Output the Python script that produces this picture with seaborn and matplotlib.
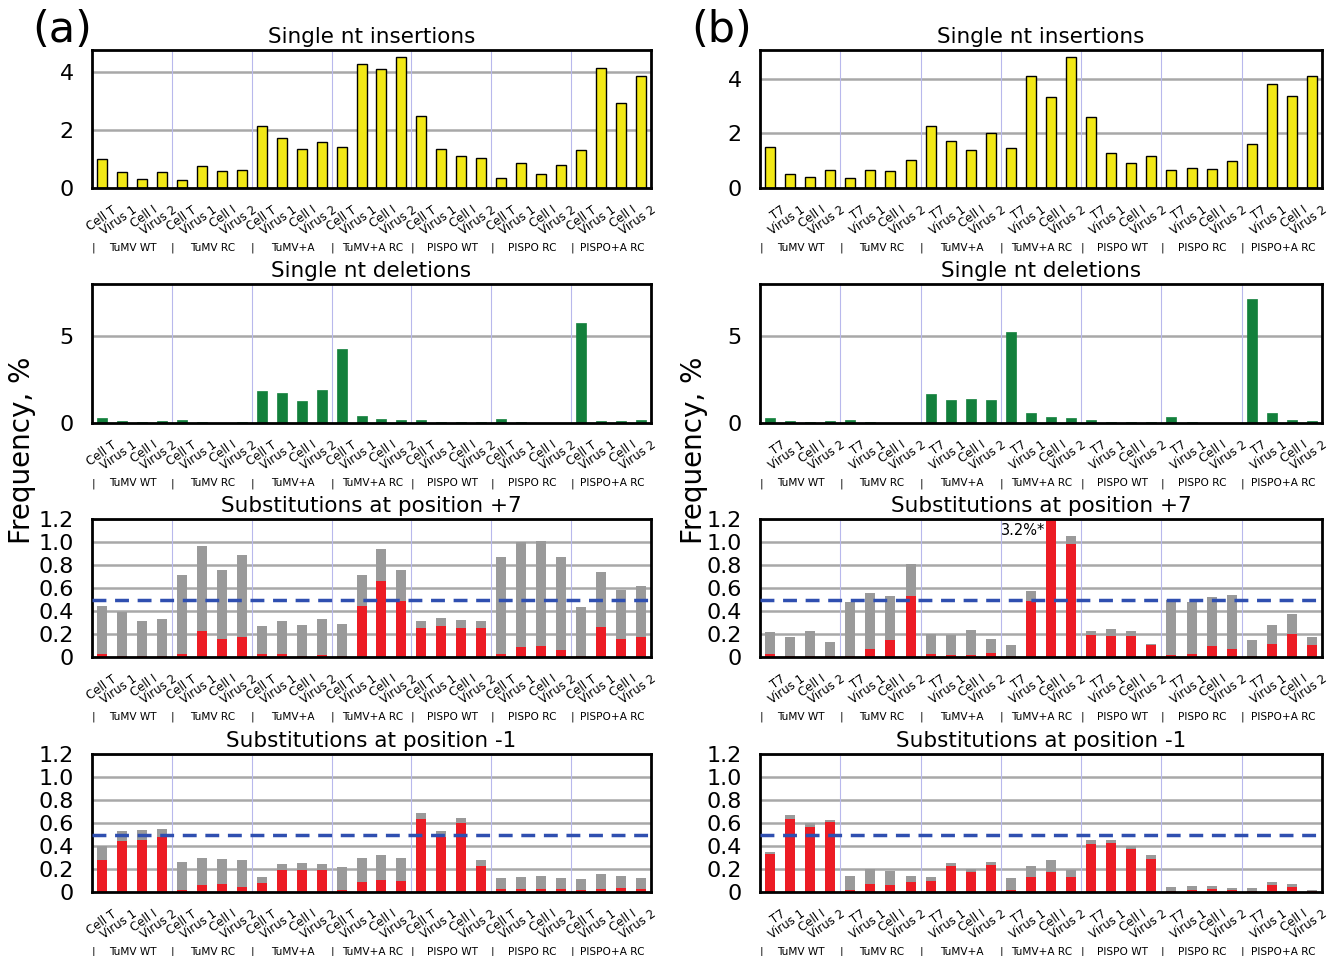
import matplotlib
matplotlib.use("Agg")
import matplotlib.pyplot as plt
import numpy as np
import pandas as pd
import seaborn as sns

# DATA
groups = ["TuMV WT", "TuMV RC", "TuMV+A", "TuMV+A RC", "PISPO WT", "PISPO RC", "PISPO+A RC"]
samples_a = ["Cell T", "Virus 1", "Cell I", "Virus 2"]
samples_b = ["T7", "Virus 1", "Cell I", "Virus 2"]

ins_a = [1.00, 0.55, 0.31, 0.54, 0.29, 0.76, 0.58, 0.63,
         2.13, 1.71, 1.33, 1.57, 1.40, 4.28, 4.09, 4.53,
         2.48, 1.36, 1.12, 1.03, 0.33, 0.85, 0.50, 0.78,
         1.31, 4.14, 2.92, 3.85]
ins_b = [1.49, 0.52, 0.41, 0.66, 0.37, 0.66, 0.62, 1.01,
         2.29, 1.71, 1.39, 2.00, 1.48, 4.10, 3.34, 4.82,
         2.60, 1.27, 0.93, 1.16, 0.66, 0.73, 0.71, 1.00,
         1.60, 3.83, 3.39, 4.09]

del_a = [0.29, 0.13, 0.06, 0.13, 0.19, 0.06, 0.02, 0.06,
         1.83, 1.72, 1.24, 1.89, 4.25, 0.42, 0.23, 0.17,
         0.15, 0.08, 0.04, 0.08, 0.23, 0.04, 0.02, 0.02,
         5.75, 0.12, 0.12, 0.15]
del_b = [0.27, 0.12, 0.08, 0.12, 0.19, 0.06, 0.02, 0.02,
         1.68, 1.33, 1.39, 1.31, 5.23, 0.60, 0.33, 0.27,
         0.15, 0.06, 0.04, 0.04, 0.37, 0.06, 0.02, 0.02,
         7.16, 0.60, 0.15, 0.12]

# substitutions: total (gray) and the red part
p7_tot_a = [0.446, 0.39, 0.31, 0.33, 0.71, 0.965, 0.755, 0.89,
            0.27, 0.315, 0.277, 0.327, 0.29, 0.71, 0.935, 0.755,
            0.315, 0.338, 0.318, 0.315, 0.866, 1.00, 1.01, 0.866,
            0.434, 0.743, 0.58, 0.618]
p7_red_a = [0.023, 0.01, 0.01, 0.01, 0.026, 0.23, 0.157, 0.17,
            0.026, 0.026, 0.01, 0.02, 0.01, 0.44, 0.66, 0.49,
            0.256, 0.268, 0.254, 0.248, 0.026, 0.09, 0.096, 0.061,
            0.01, 0.265, 0.16, 0.178]
p7_tot_b = [0.22, 0.17, 0.225, 0.134, 0.475, 0.554, 0.533, 0.808,
            0.20, 0.187, 0.233, 0.155, 0.105, 0.577, 3.25, 1.05,
            0.23, 0.242, 0.227, 0.114, 0.50, 0.48, 0.52, 0.54,
            0.149, 0.28, 0.373, 0.17]
p7_red_b = [0.03, 0.01, 0.012, 0.01, 0.01, 0.073, 0.146, 0.533,
            0.03, 0.018, 0.018, 0.038, 0.01, 0.49, 3.2, 0.985,
            0.187, 0.18, 0.18, 0.105, 0.015, 0.026, 0.096, 0.073,
            0.012, 0.11, 0.204, 0.102]

m1_tot_a = [0.40, 0.533, 0.542, 0.551, 0.257, 0.297, 0.283, 0.277,
            0.134, 0.245, 0.25, 0.245, 0.219, 0.30, 0.318, 0.30,
            0.688, 0.533, 0.641, 0.28, 0.12, 0.134, 0.137, 0.125,
            0.114, 0.16, 0.137, 0.125]
m1_red_a = [0.277, 0.443, 0.452, 0.475, 0.02, 0.058, 0.067, 0.047,
            0.079, 0.19, 0.195, 0.195, 0.017, 0.09, 0.102, 0.096,
            0.638, 0.475, 0.598, 0.23, 0.026, 0.03, 0.03, 0.026,
            0.02, 0.03, 0.038, 0.026]
m1_tot_b = [0.35, 0.67, 0.60, 0.63, 0.137, 0.20, 0.18, 0.137,
            0.134, 0.25, 0.204, 0.26, 0.122, 0.222, 0.28, 0.187,
            0.452, 0.452, 0.40, 0.324, 0.04, 0.05, 0.055, 0.032,
            0.032, 0.09, 0.07, 0.02]
m1_red_b = [0.327, 0.633, 0.566, 0.612, 0.02, 0.073, 0.058, 0.085,
            0.10, 0.222, 0.175, 0.233, 0.02, 0.128, 0.175, 0.128,
            0.42, 0.423, 0.376, 0.289, 0.012, 0.02, 0.023, 0.015,
            0.012, 0.064, 0.047, 0.01]

YELLOW = "#f2e816"
GREEN = "#13803c"
GRAY = "#9a9a9a"
RED = "#ec1c24"

sns.set_style("white")
plt.rcParams.update({"text.color": "black", "axes.labelcolor": "black",
                     "xtick.color": "black", "ytick.color": "black"})
fig = plt.figure(figsize=(13.31, 9.56), dpi=100)

n = len(ins_a)
xs = np.arange(n)
col_x = [(92, 651), (760, 1322)]
row_y = [(50, 188), (284, 423), (519, 657), (754, 892)]
W, H = 1331, 956


def make_ax(col, row):
    x0, x1 = col_x[col]
    y0, y1 = row_y[row]
    return fig.add_axes([x0 / W, 1 - y1 / H, (x1 - x0) / W, (y1 - y0) / H])


def style_ax(ax, title, samples, ylim, yticks, fmt):
    ax.set_xlim(-0.5, n - 0.5)
    ax.set_ylim(0, ylim)
    ax.set_yticks(yticks)
    ax.set_yticklabels([fmt(v) for v in yticks], fontsize=16)
    ax.set_xticks(xs + 0.5)
    ax.set_xticklabels(samples * len(groups), rotation=35, ha="right",
                       rotation_mode="anchor", fontsize=8.5)
    ax.set_xlabel("")
    ax.set_ylabel("")
    ax.tick_params(axis="both", direction="out", length=8, width=1.8)
    ax.tick_params(axis="x", pad=3)
    ax.tick_params(axis="y", pad=5)
    for s in ax.spines.values():
        s.set_linewidth(2)
        s.set_color("black")
    ax.set_axisbelow(True)
    for v in yticks[1:]:
        ax.axhline(v, color="#a8a8a8", lw=1.8, zorder=0)
    for g in range(1, len(groups)):
        ax.axvline(4 * g - 0.5, color="#b8b8ec", lw=0.8, zorder=0.5)
    tr = ax.get_xaxis_transform()
    for g, name in enumerate(groups):
        ax.text(4 * g - 0.45, -0.435, "|", transform=tr,
                ha="center", va="center", fontsize=7.6)
        ax.text(4 * g + 1.55, -0.435, name, transform=tr,
                ha="center", va="center", fontsize=7.6)
    ax.set_title(title, fontsize=15.5, pad=5)


def simple_panel(ax, vals, color, edge, lw):
    df = pd.DataFrame({"x": xs, "y": vals})
    sns.barplot(data=df, x="x", y="y", color=color, width=0.5, saturation=1,
                edgecolor=edge, linewidth=lw, errorbar=None, ax=ax)


def stacked_panel(ax, tot, red):
    df = pd.DataFrame({"x": xs, "tot": tot, "red": red})
    sns.barplot(data=df, x="x", y="tot", color=GRAY, width=0.5, saturation=1,
                linewidth=0, errorbar=None, ax=ax)
    sns.barplot(data=df, x="x", y="red", color=RED, width=0.5, saturation=1,
                linewidth=0, errorbar=None, ax=ax)
    ax.axhline(0.5, color="#2f4fb0", lw=2.5, ls=(0, (4, 2.5)), zorder=5)


fmt_int = lambda v: "%d" % v
fmt_dec = lambda v: "0" if v == 0 else "%.1f" % v
sub_ticks = [0, 0.2, 0.4, 0.6, 0.8, 1.0, 1.2]

for col, samples, ins, dele, p7t, p7r, m1t, m1r, ins_lim in [
        (0, samples_a, ins_a, del_a, p7_tot_a, p7_red_a, m1_tot_a, m1_red_a, 4.76),
        (1, samples_b, ins_b, del_b, p7_tot_b, p7_red_b, m1_tot_b, m1_red_b, 5.06)]:
    ax = make_ax(col, 0)
    simple_panel(ax, ins, YELLOW, "black", 1.0)
    style_ax(ax, "Single nt insertions", samples, ins_lim, [0, 2, 4], fmt_int)

    ax = make_ax(col, 1)
    simple_panel(ax, dele, GREEN, GREEN, 0.5)
    style_ax(ax, "Single nt deletions", samples, 8, [0, 5], fmt_int)

    ax = make_ax(col, 2)
    stacked_panel(ax, p7t, p7r)
    style_ax(ax, "Substitutions at position +7", samples, 1.2, sub_ticks, fmt_dec)
    if col == 1:
        ax.text(13.7, 1.1, "3.2%*", ha="right", va="center", fontsize=10.5)

    ax = make_ax(col, 3)
    stacked_panel(ax, m1t, m1r)
    style_ax(ax, "Substitutions at position -1", samples, 1.2, sub_ticks, fmt_dec)

fig.text(62 / W, 1 - 30 / H, "(a)", fontsize=31, ha="center", va="center")
fig.text(722 / W, 1 - 30 / H, "(b)", fontsize=31, ha="center", va="center")
fig.text(22 / W, 1 - 450 / H, "Frequency, %", fontsize=20, rotation=90,
         ha="center", va="center")
fig.text(694 / W, 1 - 450 / H, "Frequency, %", fontsize=20, rotation=90,
         ha="center", va="center")

fig.savefig("out.png", dpi=100)
